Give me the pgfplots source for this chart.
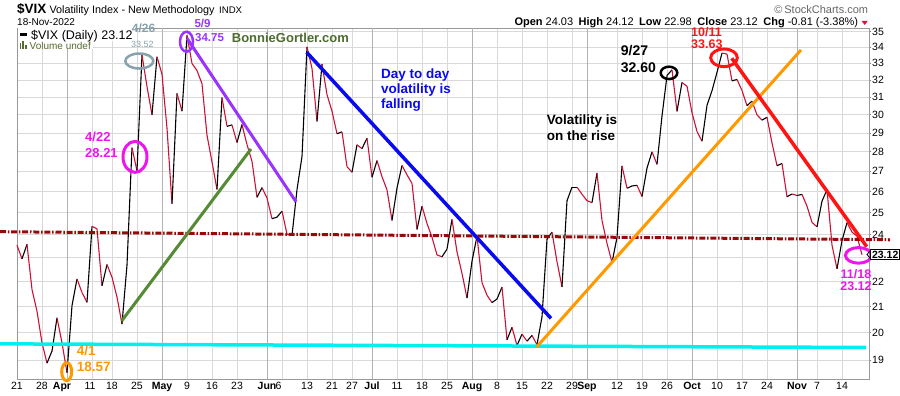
\documentclass[border=0pt]{standalone}
\usepackage{pgfplots}
\pgfplotsset{compat=1.18}
\usepackage{pgfplotstable}
\usepackage{fontspec}
\setmainfont{Liberation Sans}
\newcommand{\fs}[1]{\fontsize{#1}{#1}\selectfont}
\definecolor{downred}{RGB}{205,16,52}
\definecolor{dashred}{RGB}{150,10,10}
\definecolor{cyanl}{RGB}{0,240,240}
\definecolor{greenl}{RGB}{84,139,52}
\definecolor{purplel}{RGB}{153,51,255}
\definecolor{bluel}{RGB}{10,10,240}
\definecolor{orangel}{RGB}{255,153,0}
\definecolor{redl}{RGB}{255,20,20}
\definecolor{magl}{RGB}{238,20,238}
\definecolor{grayblue}{RGB}{135,162,172}
\definecolor{bonnie}{RGB}{78,107,48}
\definecolor{olive}{RGB}{85,107,47}
\definecolor{trired}{RGB}{220,20,60}

\pgfplotstableread{
x y c
-9 23.53 1
-8 22.94 0
-7 23.57 1
-6 21.67 1
-5 20.81 1
-4 19.63 1
-3 18.90 0
-2 19.33 0
-1 20.56 1
0 19.63 1
1 18.57 0
2 21.03 0
3 22.10 1
4 21.55 1
5 21.16 0
6 24.37 1
7 24.26 1
8 21.82 0
9 22.70 1
10 22.17 1
11 21.37 1
12 20.32 0
13 22.68 0
14 28.21 1
15 27.02 0
16 33.52 1
17 31.60 1
18 29.99 0
19 33.40 1
20 32.34 1
21 29.25 1
22 25.42 0
23 31.20 1
24 30.19 0
25 34.75 1
26 32.99 1
27 32.56 1
28 31.77 1
29 28.87 1
30 27.47 1
31 26.10 0
32 30.96 1
33 29.35 0
34 29.43 1
35 28.48 0
36 29.45 1
37 28.37 1
38 27.50 1
39 25.72 0
40 26.19 1
41 25.69 1
42 24.72 0
43 24.79 0
44 25.07 1
45 24.02 1
46 23.96 0
47 26.09 0
48 27.75 0
49 34.02 1
50 32.69 1
51 29.62 0
52 32.95 1
53 31.13 1
54 30.19 1
55 28.95 0
56 29.05 1
57 27.23 1
58 26.95 0
59 28.36 1
60 28.16 0
61 28.71 1
62 26.70 0
63 27.54 1
64 26.73 1
65 26.08 1
66 24.64 0
67 26.17 0
68 27.29 1
69 26.82 1
70 26.40 1
71 24.23 0
72 25.30 1
73 24.50 1
74 23.88 1
75 23.11 1
76 23.03 0
77 23.36 0
78 24.69 1
79 23.24 1
80 22.33 1
81 21.33 0
82 22.84 0
83 23.93 1
84 21.95 1
85 21.44 1
86 21.15 0
87 21.29 0
88 21.77 1
89 19.74 0
90 20.20 1
91 19.53 0
92 19.95 1
93 19.69 0
94 19.90 1
95 19.56 0
96 20.60 0
97 23.80 0
98 24.11 1
99 22.82 1
100 21.78 0
101 25.56 0
102 26.21 0
103 26.21 1
104 25.87 1
105 25.56 1
106 25.47 0
107 26.91 1
108 24.64 1
109 23.61 1
110 22.79 0
111 23.87 0
112 27.27 1
113 26.16 0
114 26.27 0
115 26.30 1
116 25.76 0
117 27.16 0
118 27.99 1
119 27.35 0
120 29.92 0
121 32.26 0
122 32.60 1
123 30.18 0
124 31.84 1
125 31.62 1
126 30.10 1
127 29.07 1
128 28.55 0
129 30.52 0
130 31.36 0
131 32.45 0
132 33.63 1
133 33.57 1
134 31.94 0
135 32.02 1
136 31.37 1
137 30.50 0
138 30.76 1
139 29.98 1
140 29.69 0
141 29.85 1
142 28.46 1
143 27.28 0
144 27.39 1
145 25.75 0
146 25.88 1
147 25.81 0
148 25.86 1
149 25.30 1
150 24.55 1
151 24.35 0
152 25.54 0
153 26.09 1
154 23.53 1
155 22.52 0
156 23.73 0
157 24.54 1
158 24.11 1
159 23.93 1
160 23.12 1
}\vix

\begin{document}
\begin{tikzpicture}[x=1pt,y=1pt]
\path[use as bounding box] (0,0) rectangle (900,396);
\begin{axis}[
  at={(17pt,16.7pt)}, anchor=south west, scale only axis,
  width=852pt, height=351.3pt,
  xmin=-9, xmax=161.4, ymode=log, ymin=18.34, ymax=35.24,
  clip=false,
  axis line style={draw=black!40, line width=0.6pt},
  ytick={19,20,21,22,23,24,25,26,27,28,29,30,31,32,33,34,35},
  yticklabels={19,20,21,22,,24,25,26,27,28,29,30,31,32,33,34,35},
  ytick pos=right, yticklabel pos=right, ytick align=outside,
  ytick style={draw=black!50, line width=0.5pt},
  major tick length=2pt,
  ymajorgrids, major grid style={draw=black!15, line width=0.5pt},
  xtick={-9,-4,0,5.6,10,15,20,25,30,35,41,43.3,49,54,58,62,67,72,77,82,87,92,97,102,105,111,116,121,126,131,136,141,147,151,156},
  xticklabels={21,28,\textbf{Apr},11,18,25,\textbf{May},9,16,23,\textbf{Jun},6,13,21,27,\textbf{Jul},11,18,25,\textbf{Aug},8,15,22,29,\textbf{Sep},12,19,26,\textbf{Oct},10,17,24,\textbf{Nov},7,14},
  xtick pos=left, xtick style={draw=none},
  minor xtick={-4,6,10,15,25,30,35,44,49,54,58,67,72,77,87,92,97,102,111,116,121,131,136,141,151,156},
  xminorgrids, minor grid style={draw=black!15, line width=0.5pt},
  minor tick length=0pt,
  yticklabel style={font=\fs{10.5}, inner sep=1pt},
  xticklabel style={font=\fs{10.5}, inner sep=2.5pt},
  colormap={updown}{color=(black) color=(downred)},
  point meta min=0, point meta max=1,
]
\pgfplotsinvokeforeach{1,20,41,62,82,105,126,147}{
  \draw[black!30, line width=0.6pt] (axis cs:#1,18.34) -- (axis cs:#1,35.24);
}
\addplot[mesh, shader=flat corner, point meta=\thisrow{c}, line width=1.1pt] table[x=x,y=y] {\vix};

% annotation lines
\addplot[dashred, line width=3pt, dash pattern=on 6pt off 1.8pt on 1.5pt off 1.8pt] coordinates {(-12.4,24.13) (165.6,23.77)};
\addplot[cyanl, line width=3.5pt] coordinates {(-12.4,19.59) (160.8,19.46)};
\addplot[greenl, line width=3pt] coordinates {(11.94,20.44) (37.8,28.14)};
\addplot[purplel, line width=3pt] coordinates {(25,34.57) (46.8,25.51)};
\addplot[bluel, line width=3.5pt] coordinates {(48.94,33.68) (97.8,20.54)};
\addplot[orangel, line width=3pt] coordinates {(94.94,19.48) (147.8,33.83)};
\addplot[redl, line width=3.5pt] coordinates {(133.94,33.31) (160.94,23.47)};

% ellipses
\draw[grayblue, line width=2.5pt] (axis cs:15.46,33.14) ellipse (14pt and 7.5pt);
\draw[purplel, line width=2.5pt] (axis cs:24.9,34.35) ellipse (6.5pt and 10pt);
\draw[magl, line width=3pt] (axis cs:14.6,27.73) ellipse (12pt and 15.5pt);
\draw[black, line width=2.5pt] (axis cs:121.4,32.42) ellipse (8.3pt and 6.2pt);
\draw[redl, line width=3pt] (axis cs:132.4,33.34) ellipse (13.3pt and 8.8pt);
\draw[orangel, line width=3pt] (axis cs:0.94,18.60) ellipse (5pt and 9pt);
\draw[magl, line width=3pt] (axis cs:159.3,23.09) ellipse (13pt and 7.8pt);
\end{axis}

% legend box
\fill[white] (17.6,346.5) rectangle (93,367.6);
\fill[white] (93,355) rectangle (135,367.6);
\draw[black, line width=2.5pt] (20,361.3) -- (27,361.3);
\node[anchor=base west, inner sep=0, font=\fs{12.5}] at (31,356.7) {\$VIX (Daily) 23.12};
\fill[olive] (19.5,347) rectangle (21.3,352.5);
\fill[olive] (22.3,347) rectangle (24.1,354.5);
\fill[olive] (25.1,347) rectangle (26.9,350.5);
\node[anchor=base west, inner sep=0, font=\fs{10}, text=olive] at (29.5,346.7) {Volume undef};

% titles
\node[anchor=base west, inner sep=0, font=\fs{13.5}\bfseries] at (17,382) {\$VIX};
\node[anchor=base west, inner sep=0, font=\fs{10.8}] at (49.3,382.5) {Volatility Index - New Methodology};
\node[anchor=base west, inner sep=0, font=\fs{9.6}] at (219,382.5) {INDX};
\node[anchor=base west, inner sep=0, font=\fs{10}] at (17,370) {18-Nov-2022};
\node[anchor=base east, inner sep=0, font=\fs{11}, text=black!60] at (868.3,382.7) {\textcopyright\,StockCharts.com};
\node[anchor=base east, inner sep=0, font=\fs{11}] at (858.3,370) {\textbf{Open} 24.03\enspace\textbf{High} 24.12\enspace\textbf{Low} 22.98\enspace\textbf{Close} 23.12\enspace\textbf{Chg} -0.81 (-3.38\%)};
\fill[trired] (861.7,375) -- (867.7,375) -- (864.7,371) -- cycle;

% annotation texts
\node[anchor=base west, inner sep=0, font=\fs{12}\bfseries, text=grayblue] at (131.7,363.7) {4/26};
\node[anchor=base west, inner sep=0, font=\fs{9}, text=grayblue] at (131,348.7) {33.52};
\node[anchor=base west, inner sep=0, font=\fs{11.5}\bfseries, text=purplel] at (194.3,368) {5/9};
\node[anchor=base west, inner sep=0, font=\fs{11.5}\bfseries, text=purplel] at (195,354.3) {34.75};
\node[anchor=base west, inner sep=0, font=\fs{13}\bfseries, text=bonnie] at (231.7,353.7) {BonnieGortler.com};
\node[anchor=base west, inner sep=0, font=\fs{13}\bfseries, text=magl] at (85,254.3) {4/22};
\node[anchor=base west, inner sep=0, font=\fs{13}\bfseries, text=magl] at (85,238.7) {28.21};
\node[anchor=base west, inner sep=0, font=\fs{13.5}\bfseries, text=bluel] at (381,317.7) {Day to day};
\node[anchor=base west, inner sep=0, font=\fs{13.5}\bfseries, text=bluel] at (381,302.7) {volatility is};
\node[anchor=base west, inner sep=0, font=\fs{13.5}\bfseries, text=bluel] at (381,287.7) {falling};
\node[anchor=base west, inner sep=0, font=\fs{13.5}\bfseries] at (546.7,271) {Volatility is};
\node[anchor=base west, inner sep=0, font=\fs{13.5}\bfseries] at (546.7,255.5) {on the rise};
\node[anchor=base west, inner sep=0, font=\fs{14}\bfseries] at (620.7,340) {9/27};
\node[anchor=base west, inner sep=0, font=\fs{14}\bfseries] at (620.7,323.3) {32.60};
\node[anchor=base west, inner sep=0, font=\fs{12.5}\bfseries, text=redl] at (691,359.3) {10/11};
\node[anchor=base west, inner sep=0, font=\fs{12.5}\bfseries, text=redl] at (691,347.7) {33.63};
\node[anchor=base west, inner sep=0, font=\fs{13.5}\bfseries, text=orangel] at (76.7,40) {4/1};
\node[anchor=base west, inner sep=0, font=\fs{13.5}\bfseries, text=orangel] at (76.7,24.3) {18.57};
\node[anchor=base, inner sep=0, font=\fs{12.5}\bfseries, text=magl] at (856,117.7) {11/18};
\node[anchor=base, inner sep=0, font=\fs{12.5}\bfseries, text=magl] at (856,105) {23.12};
\node[draw=black, line width=0.8pt, fill=white, inner xsep=1.5pt, inner ysep=1pt, font=\fs{10.5}\bfseries] at (885.2,141.5) {23.12};
\draw[black, line width=0.8pt] (870,145) -- (867,141.5) -- (870,138);
\end{tikzpicture}
\end{document}
